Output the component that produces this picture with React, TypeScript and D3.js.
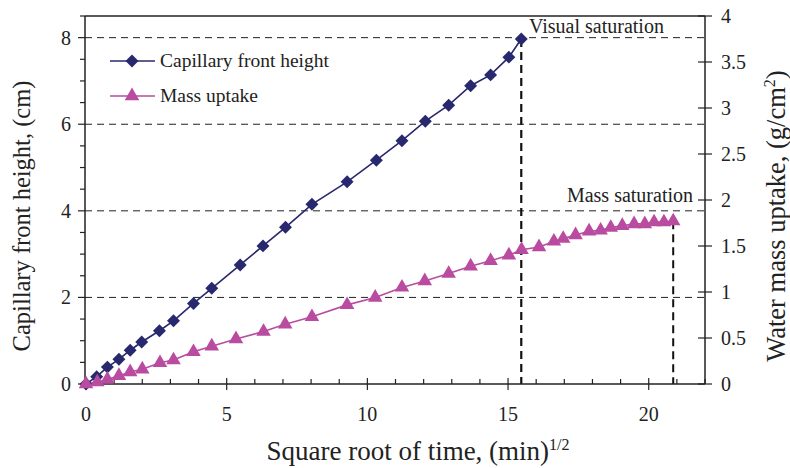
import React from "react";
import * as d3 from "d3";

const heightX = [0, 0.38, 0.76, 1.17, 1.57, 1.98, 2.61, 3.11, 3.82, 4.47, 5.48, 6.29, 7.09, 8.03, 9.28, 10.32, 11.23, 12.06, 12.89, 13.67, 14.38, 15.03, 15.47];
const heightY = [0, 0.17, 0.39, 0.57, 0.78, 0.97, 1.23, 1.46, 1.86, 2.21, 2.75, 3.19, 3.62, 4.15, 4.67, 5.17, 5.62, 6.07, 6.44, 6.89, 7.14, 7.55, 7.97];

const massX = [0, 0.4, 0.76, 1.17, 1.57, 2.0, 2.63, 3.11, 3.82, 4.47, 5.33, 6.31, 7.08, 8.03, 9.28, 10.28, 11.23, 12.04, 12.89, 13.67, 14.38, 15.03, 15.48, 16.1, 16.63, 16.96, 17.4, 17.88, 18.29, 18.65, 19.06, 19.48, 19.86, 20.19, 20.54, 20.87];
const massY = [0, 0.02, 0.05, 0.09, 0.13, 0.16, 0.23, 0.26, 0.35, 0.41, 0.49, 0.57, 0.65, 0.73, 0.86, 0.94, 1.05, 1.12, 1.2, 1.28, 1.34, 1.4, 1.46, 1.49, 1.55, 1.58, 1.62, 1.66, 1.67, 1.7, 1.72, 1.74, 1.74, 1.76, 1.76, 1.77];

const xMajorTicks = [0, 5, 10, 15, 20];
const leftTicks = [0, 2, 4, 6, 8];
const rightTicks = [0, 0.5, 1, 1.5, 2, 2.5, 3, 3.5, 4];

const NAVY = "#28286f";
const MAGENTA = "#b94ca0";
const FONT = "Liberation Serif, DejaVu Serif, serif";

export default function App() {
  const L = 85, R = 705, T = 16, B = 384;
  const x = d3.scaleLinear().domain([0, 22]).range([86, 705]);
  const yL = d3.scaleLinear().domain([0, 8.5]).range([B, T]);
  const yR = d3.scaleLinear().domain([0, 4]).range([B, T]);

  const hData = heightX.map((v, i) => [v, heightY[i]] as [number, number]);
  const mData = massX.map((v, i) => [v, massY[i]] as [number, number]);
  const hLine = d3.line<[number, number]>().x(d => x(d[0])).y(d => yL(d[1]));
  const mLine = d3.line<[number, number]>().x(d => x(d[0])).y(d => yR(d[1]));
  const diamond = d3.symbol().type(d3.symbolSquare).size(84)()!;
  const tri = d3.symbol().type(d3.symbolTriangle).size(92)()!;

  const minorX = d3.range(0, 23, 1);
  const minorL = d3.range(0, 8.51, 0.5);

  const lastH = hData[hData.length - 1];
  const lastM = mData[mData.length - 1];
  const ts = { fontFamily: FONT };

  return (
    <svg width={790} height={468} style={{ position: "absolute", left: 0, top: 0, background: "#fff", fontFamily: FONT }}>
      <rect width={790} height={468} fill="#fff" />
      {leftTicks.filter(t => t > 0).map(t => (
        <line key={"g" + t} x1={L} x2={R} y1={yL(t)} y2={yL(t)} stroke="#222" strokeWidth={1} strokeDasharray="7,5" />
      ))}
      <line x1={x(lastH[0])} x2={x(lastH[0])} y1={yL(lastH[1])} y2={B} stroke="#111" strokeWidth={2.2} strokeDasharray="8,5" />
      <line x1={x(lastM[0])} x2={x(lastM[0])} y1={yR(lastM[1])} y2={B} stroke="#111" strokeWidth={2} strokeDasharray="8,5" />
      <line x1={L} x2={R} y1={T} y2={T} stroke="#222" strokeWidth={1.5} />
      <line x1={L} x2={L} y1={T} y2={B} stroke="#222" strokeWidth={1.5} />
      <line x1={R} x2={R} y1={T} y2={B} stroke="#222" strokeWidth={1.5} />
      <line x1={L} x2={R} y1={B} y2={B} stroke="#222" strokeWidth={1.5} />
      {minorX.map(t => (
        xMajorTicks.includes(t)
          ? <line key={"xt" + t} x1={x(t)} x2={x(t)} y1={B - 6} y2={B + 6} stroke="#222" strokeWidth={1.2} />
          : <line key={"xt" + t} x1={x(t)} x2={x(t)} y1={B - 5} y2={B} stroke="#222" strokeWidth={1.2} />
      ))}
      {xMajorTicks.map(t => (
        <text key={"xl" + t} style={ts} x={x(t)} y={421} textAnchor="middle" fontSize={20} fill="#222">{t}</text>
      ))}
      {minorL.map(t => (
        <line key={"lt" + t} x1={leftTicks.includes(t) ? L - 7 : L - 5} x2={L} y1={yL(t)} y2={yL(t)} stroke="#222" strokeWidth={1.2} />
      ))}
      {leftTicks.map(t => (
        <text key={"ll" + t} style={ts} x={71} y={yL(t) + 7} textAnchor="end" fontSize={20} fill="#222">{t}</text>
      ))}
      {rightTicks.map(t => (
        <g key={"rt" + t}>
          <line x1={R - 7} x2={R + 7} y1={yR(t)} y2={yR(t)} stroke="#222" strokeWidth={1.2} />
          <text style={ts} x={721} y={yR(t) + 7} textAnchor="start" fontSize={20} fill="#222">{t}</text>
        </g>
      ))}
      <path d={hLine(hData)!} fill="none" stroke={NAVY} strokeWidth={1.6} />
      <path d={mLine(mData)!} fill="none" stroke={MAGENTA} strokeWidth={1.6} />
      {hData.map((d, i) => (
        <path key={"h" + i} d={diamond} transform={`translate(${x(d[0])},${yL(d[1])}) rotate(45)`} fill={NAVY} />
      ))}
      {mData.map((d, i) => (
        <path key={"m" + i} d={tri} transform={`translate(${x(d[0])},${yR(d[1])})`} fill={MAGENTA} />
      ))}
      <text style={ts} x={529} y={33} fontSize={20} fill="#222">Visual saturation</text>
      <text style={ts} x={693} y={202} textAnchor="end" fontSize={20} fill="#222">Mass saturation</text>
      <line x1={110} x2={155} y1={61} y2={61} stroke={NAVY} strokeWidth={1.6} />
      <path d={diamond} transform="translate(132,61) rotate(45)" fill={NAVY} />
      <text style={ts} x={160} y={67} fontSize={19.5} fill="#222">Capillary front height</text>
      <line x1={110} x2={155} y1={96} y2={96} stroke={MAGENTA} strokeWidth={1.6} />
      <path d={tri} transform="translate(132,96)" fill={MAGENTA} />
      <text style={ts} x={160} y={102} fontSize={19.5} fill="#222">Mass uptake</text>
      <text style={ts} transform="translate(30,216) rotate(-90)" textAnchor="middle" fontSize={24.5} fill="#222">Capillary front height, (cm)</text>
      <text style={ts} transform="translate(785,216) rotate(-90)" textAnchor="middle" fontSize={26.5} fill="#222">
        Water mass uptake, (g/cm<tspan dy={-10} fontSize={16}>2</tspan><tspan dy={10}>)</tspan>
      </text>
      <text style={ts} x={418} y={460} textAnchor="middle" fontSize={27} fill="#222">
        Square root of time, (min)<tspan dy={-10} fontSize={16}>1/2</tspan>
      </text>
    </svg>
  );
}
